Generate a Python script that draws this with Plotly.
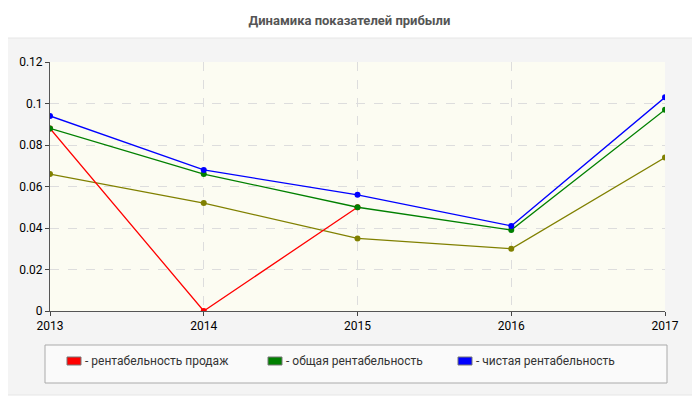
import plotly.graph_objects as go

years = [2013, 2014, 2015, 2016, 2017]
sales = [0.088, 0.0, 0.05, None, None]
total = [0.088, 0.066, 0.05, 0.039, 0.097]
net = [0.094, 0.068, 0.056, 0.041, 0.103]
other = [0.066, 0.052, 0.035, 0.030, 0.074]
legend_names = ["- рентабельность продаж", "- общая рентабельность", "- чистая рентабельность"]
legend_colors = ["#ff0000", "#008000", "#0000ff"]

# page body adds an 8px offset, so target pixel positions are shifted by OFF
OFF = 8
W, H = 700, 400
L, R, T, B = 50 - OFF, 35 + OFF, 62 - OFF, 89 + OFF
pw, ph = W - L - R, H - T - B


def px_x(p):
    return (p - OFF - L) / pw


def px_y(p):
    return (H - B - (p - OFF)) / ph


fig = go.Figure()
for ys, c in [(other, "#808000"), (sales, "#ff0000"), (total, "#008000"), (net, "#0000ff")]:
    fig.add_trace(go.Scatter(x=years, y=ys, mode="lines+markers",
                             line=dict(color=c, width=1.3),
                             marker=dict(color=c, size=6), showlegend=False))

shapes = [
    dict(type="rect", xref="paper", yref="paper", layer="below",
         x0=px_x(2), x1=px_x(698), y0=px_y(395), y1=px_y(38),
         fillcolor="#f4f4f4", line=dict(color="#e6e6e6", width=1)),
    dict(type="rect", xref="paper", yref="paper", layer="below",
         x0=0, x1=1, y0=0, y1=1, fillcolor="#fcfcf2", line=dict(width=0)),
    dict(type="rect", xref="paper", yref="paper",
         x0=px_x(45), x1=px_x(667), y0=px_y(383), y1=px_y(345),
         fillcolor="#fafafa", line=dict(color="#aaaaaa", width=1)),
]
annotations = []
for name, c, sx in zip(legend_names, legend_colors, [67, 268, 458]):
    shapes.append(dict(type="rect", xref="paper", yref="paper",
                       x0=px_x(sx), x1=px_x(sx + 14), y0=px_y(365), y1=px_y(357),
                       fillcolor=c, line=dict(color="#777777", width=1)))
    annotations.append(dict(xref="paper", yref="paper", x=px_x(sx + 16), y=px_y(361),
                            text=name, showarrow=False, xanchor="left", yanchor="middle",
                            font=dict(size=12, color="#333333")))

fig.update_layout(
    width=W, height=H,
    margin=dict(l=L, r=R, t=T, b=B),
    paper_bgcolor="white", plot_bgcolor="rgba(0,0,0,0)",
    font=dict(family="Roboto, Arial, sans-serif", size=12, color="#000000"),
    title=dict(text="<b>Динамика показателей прибыли</b>", x=px_x(350), xanchor="center",
               y=1 - (20 - OFF) / H, yanchor="middle", font=dict(size=13, color="#555555")),
    shapes=shapes, annotations=annotations,
    xaxis=dict(range=[2013, 2017], tickvals=years, showgrid=True,
               gridcolor="#dddddd", griddash="dash", zeroline=False,
               showline=True, linecolor="#555555", ticks="outside", ticklen=4),
    yaxis=dict(range=[0, 0.12], dtick=0.02, showgrid=True,
               gridcolor="#dddddd", griddash="dash", zeroline=False,
               showline=True, linecolor="#555555", ticks="outside", ticklen=4),
)
fig.write_html("out.html")
